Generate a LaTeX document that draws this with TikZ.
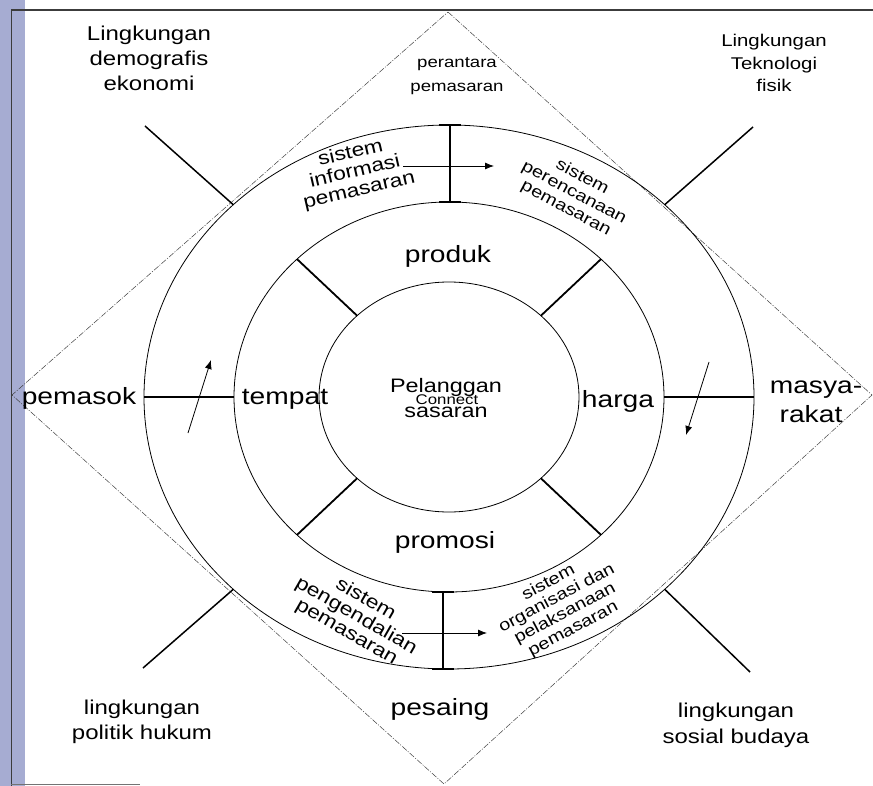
\documentclass[tikz,border=0pt]{standalone}
\usepackage{fontspec}
\setmainfont{Liberation Sans}[FakeStretch=1.2]
\usetikzlibrary{arrows.meta}
\definecolor{slidebar}{RGB}{166,172,210}
\definecolor{framegray}{RGB}{60,60,60}
\begin{document}
\begin{tikzpicture}[x=1pt,y=-1pt,
  ring/.style={line width=0.8pt},
  spoke/.style={line width=1.8pt},
  ray/.style={line width=1.5pt},
  link/.style={line width=1.2pt},
  rhomb/.style={line width=0.5pt, black!75, dash pattern=on 6pt off 1.5pt on 1pt off 1.5pt},
  flow/.style={line width=0.8pt,-{Latex[length=9pt,width=7pt]}},
  ibar/.style={line width=1.5pt},
  mixlabel/.style={font=\fontsize{23.5}{28}\selectfont, inner sep=0pt, anchor=base},
  envlabel/.style={font=\fontsize{20}{25}\selectfont, inner sep=0pt, anchor=base},
  smalllabel/.style={font=\fontsize{17}{22}\selectfont, inner sep=0pt, anchor=base},
  bandA/.style={font=\fontsize{19}{19}\selectfont, inner sep=0pt, align=center},
  bandB/.style={font=\fontsize{16.5}{17.5}\selectfont, inner sep=0pt, align=center},
]
\useasboundingbox (0,0) rectangle (873,786);

% slide frame
\fill[slidebar] (0,0) rectangle (25,786);
\draw[framegray, line width=0.8pt] (11,10) -- (11,786);
\draw[framegray, line width=1.2pt] (11,10) -- (873,10);
\draw[black!55, line width=0.8pt] (11,784) -- (140,784);

% key points
\coordinate (C) at (449,397);
\coordinate (dT) at (448,12);
\coordinate (dR) at (872,395);
\coordinate (dB) at (444,784);
\coordinate (dL) at (12,395);

\coordinate (iNW) at (357.1,315.7);
\coordinate (iNE) at (540.9,315.7);
\coordinate (iSW) at (357.1,478.3);
\coordinate (iSE) at (540.9,478.3);
\coordinate (mNW) at (297,259.1);
\coordinate (mNE) at (601,259.1);
\coordinate (mSW) at (297,534.9);
\coordinate (mSE) at (601,534.9);
\coordinate (oNW) at (233.3,204.7);
\coordinate (oNE) at (664.7,204.7);
\coordinate (oSW) at (233.3,589.3);
\coordinate (oSE) at (664.7,589.3);
\coordinate (rNW) at (145,126);
\coordinate (rNE) at (753,127);
\coordinate (rSW) at (143,668);
\coordinate (rSE) at (750,672);
\coordinate (mW) at (234,397);
\coordinate (oW) at (144,397);
\coordinate (mE) at (664,397);
\coordinate (oE) at (754,397);

% outer diamond
\draw[rhomb] (dT) -- (dR) -- (dB) -- (dL) -- cycle;

% three rings
\draw[ring] (C) ellipse [x radius=305pt, y radius=272pt];
\draw[ring] (C) ellipse [x radius=215pt, y radius=195pt];
\draw[ring] (C) ellipse [x radius=130pt, y radius=115pt];

% spokes between inner and middle ring
\draw[spoke] (iNW) -- (mNW);
\draw[spoke] (iNE) -- (mNE);
\draw[spoke] (iSW) -- (mSW);
\draw[spoke] (iSE) -- (mSE);

% rays to the environment
\draw[ray] (oNW) -- (rNW);
\draw[ray] (oNE) -- (rNE);
\draw[ray] (oSW) -- (rSW);
\draw[ray] (oSE) -- (rSE);

% horizontal links
\draw[link] (oW) -- (mW);
\draw[link] (mE) -- (oE);

% I-bars in the bands
\coordinate (itA) at (450,125);
\coordinate (itB) at (450,202);
\draw[ibar] (itA) -- (itB);
\draw[ibar] ([xshift=-11pt]itA) -- ([xshift=11pt]itA);
\draw[ibar] ([xshift=-11pt]itB) -- ([xshift=11pt]itB);
\coordinate (ibA) at (443,592);
\coordinate (ibB) at (443,669);
\draw[ibar] (ibA) -- (ibB);
\draw[ibar] ([xshift=-11pt]ibA) -- ([xshift=11pt]ibA);
\draw[ibar] ([xshift=-11pt]ibB) -- ([xshift=11pt]ibB);

% flow arrows
\coordinate (ftS) at (403,166);
\coordinate (ftE) at (494,166);
\coordinate (fbS) at (402,633);
\coordinate (fbE) at (487,633);
\coordinate (flS) at (188,433);
\coordinate (flE) at (211,360);
\coordinate (frS) at (709,362);
\coordinate (frE) at (686,435);
\draw[flow] (ftS) -- (ftE);
\draw[flow] (fbS) -- (fbE);
\draw[flow] (flS) -- (flE);
\draw[flow] (frS) -- (frE);

% environment labels
\node[envlabel] (demA) at (149,41) {Lingkungan};
\node[envlabel] (demB) at (149,66) {demografis};
\node[envlabel] (demC) at (149,91) {ekonomi};
\node[smalllabel] (tekA) at (774,47) {Lingkungan};
\node[smalllabel] (tekB) at (774,69.5) {Teknologi};
\node[smalllabel] (tekC) at (774,92) {fisik};
\node[envlabel] (polA) at (142,714) {lingkungan};
\node[envlabel] (polB) at (142,739) {politik hukum};
\node[envlabel] (sosA) at (736,717) {lingkungan};
\node[envlabel] (sosB) at (736,743) {sosial budaya};
\node[font=\fontsize{15.5}{20}\selectfont, inner sep=0pt, anchor=base] (perA) at (457,68) {perantara};
\node[font=\fontsize{15.5}{20}\selectfont, inner sep=0pt, anchor=base] (perB) at (457,92) {pemasaran};

% marketing mix and actors
\node[mixlabel] (pemasok) at (79,404) {pemasok};
\node[mixlabel] (tempat) at (285,404) {tempat};
\node[mixlabel] (harga) at (618,407) {harga};
\node[mixlabel] (masA) at (816,393) {masya-};
\node[mixlabel] (masB) at (811,422) {rakat};
\node[mixlabel] (produk) at (448,263) {produk};
\node[mixlabel] (promosi) at (445,548) {promosi};
\node[mixlabel] (pesaing) at (440,715) {pesaing};

% target customers
\node[font=\fontsize{19.5}{24}\selectfont, inner sep=0pt, anchor=base] (pelA) at (446,392) {Pelanggan};
\node[font=\fontsize{14}{16}\selectfont, inner sep=0pt, anchor=base] (pelC) at (447,404) {Connect};
\node[font=\fontsize{19.5}{24}\selectfont, inner sep=0pt, anchor=base] (pelB) at (446,417) {sasaran};

% band systems
\node[bandA, rotate=13] (sysInfo) at (355,172) {sistem\\informasi\\pemasaran};
\node[bandB, rotate=-28] (sysPlan) at (574,193) {sistem\\perencanaan\\pemasaran};
\node[bandA, rotate=-30] (sysCtrl) at (356,616) {sistem\\pengendalian\\pemasaran};
\node[bandB, rotate=28] (sysOrg) at (561,606) {sistem\\organisasi dan\\pelaksanaan\\pemasaran};
\end{tikzpicture}
\end{document}
